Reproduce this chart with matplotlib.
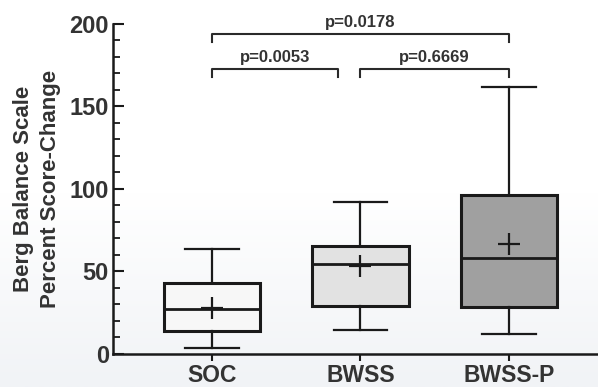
import numpy as np
import matplotlib
matplotlib.use("Agg")
import matplotlib.pyplot as plt
from matplotlib.ticker import MultipleLocator

plt.rcParams["font.family"] = ["Liberation Sans", "DejaVu Sans"]

groups = ["SOC", "BWSS", "BWSS-P"]
whislo = [3.6, 14.3, 12.0]
q1 = [14.0, 29.0, 28.5]
med = [27.5, 54.5, 58.0]
mean = [28.0, 53.3, 66.5]
q3 = [43.2, 65.5, 96.5]
whishi = [63.6, 92.0, 162.0]
box_colors = ["#f7f7f7", "#e2e2e2", "#a0a0a0"]

# significance brackets: start, end, height, label
br_start = [0, 1, 0]
br_end = [0.85, 2, 2]
br_y = [172.5, 172.5, 193.8]
br_text = ["p=0.0053", "p=0.6669", "p=0.0178"]

ink = "#1a1a1a"
txt = "#333333"

fig = plt.figure(figsize=(5.98, 3.87), dpi=100)

# faint background gradient
bg = fig.add_axes([0, 0, 1, 1], zorder=-1)
grad = np.linspace(0, 1, 256).reshape(-1, 1)
bg.imshow(grad, aspect="auto", cmap=matplotlib.colors.LinearSegmentedColormap.from_list(
    "bg", ["#ffffff", "#ffffff", "#f1f3f6"]), extent=[0, 1, 0, 1])
bg.axis("off")

ax = fig.add_axes([0.189, 0.0853, 0.811, 0.853])
ax.patch.set_alpha(0)

stats = []
for i, g in enumerate(groups):
    stats.append({
        "label": g, "whislo": whislo[i], "q1": q1[i], "med": med[i],
        "mean": mean[i], "q3": q3[i], "whishi": whishi[i], "fliers": [],
    })

bp = ax.bxp(
    stats,
    positions=range(len(groups)),
    widths=0.65,
    capwidths=0.36,
    patch_artist=True,
    showmeans=True,
    showfliers=False,
    boxprops=dict(edgecolor=ink, linewidth=2.2),
    medianprops=dict(color=ink, linewidth=2.0),
    whiskerprops=dict(color=ink, linewidth=1.6),
    capprops=dict(color=ink, linewidth=1.6),
    meanprops=dict(marker="+", markersize=16, markeredgecolor=ink,
                   markeredgewidth=1.6),
)
for patch, c in zip(bp["boxes"], box_colors):
    patch.set_facecolor(c)

for s, e, y, t in zip(br_start, br_end, br_y, br_text):
    ax.plot([s, s, e, e], [y - 4.5, y, y, y - 4.5], color="#2a2a2a",
            linewidth=1.5, clip_on=False)
    ax.text((s + e) / 2, y + 2.5, t, ha="center", va="bottom", fontsize=12,
            fontweight="bold", color=txt, clip_on=False)

ax.set_xlim(-0.667, 2.6)
ax.set_ylim(0, 200)
ax.yaxis.set_major_locator(MultipleLocator(50))
ax.yaxis.set_minor_locator(MultipleLocator(10))

for side in ["top", "right"]:
    ax.spines[side].set_visible(False)
for side in ["left", "bottom"]:
    ax.spines[side].set_linewidth(1.8)
    ax.spines[side].set_color(ink)

ax.tick_params(axis="y", which="major", direction="in", length=8, width=1.5,
               labelsize=17, colors=ink, labelcolor=txt, pad=3)
ax.tick_params(axis="y", which="minor", direction="in", length=5, width=1.3,
               colors=ink)
ax.tick_params(axis="x", which="major", direction="out", length=5, width=1.5,
               labelsize=16.5, colors=ink, labelcolor=txt, pad=2)
for lab in ax.get_xticklabels() + ax.get_yticklabels():
    lab.set_fontweight("bold")

ax.set_ylabel("Berg Balance Scale\nPercent Score-Change", fontsize=16,
              fontweight="bold", color=txt, labelpad=6, linespacing=1.35)

fig.savefig("out.png", dpi=100)
